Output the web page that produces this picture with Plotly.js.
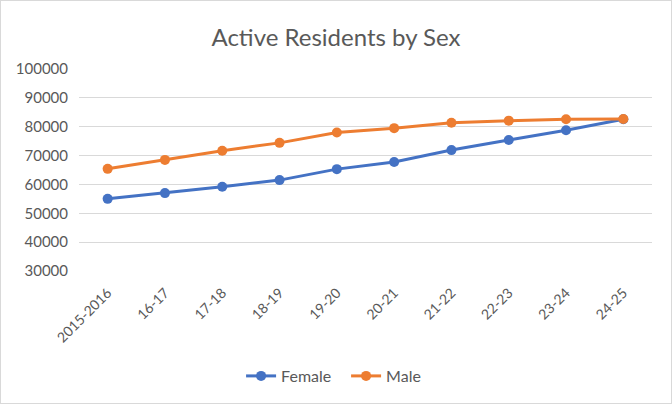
<!DOCTYPE html>
<html>
<head>
<meta charset="utf-8">
<script src="https://cdn.plot.ly/plotly-3.0.1.min.js"></script>
<style>
html,body{margin:0;padding:0;background:#fff;}
#wrap{position:relative;width:672px;height:404px;}
#chart{width:672px;height:404px;}
#frame{position:absolute;left:0;top:0;width:670px;height:402px;border:1px solid #d9d9d9;pointer-events:none;}
</style>
</head>
<body>
<div id="wrap"><div id="chart"></div><div id="frame"></div></div>
<script>
var categories = ["2015-2016","16-17","17-18","18-19","19-20","20-21","21-22","22-23","23-24","24-25"];
var female = [55000, 57000, 59200, 61500, 65300, 67800, 71900, 75400, 78800, 82600];
var male = [65400, 68500, 71700, 74400, 78000, 79500, 81400, 82100, 82600, 82700];
var yTicks = [30000,40000,50000,60000,70000,80000,90000,100000];

var font = "Lato, 'Open Sans', sans-serif";
var traces = [
  {x: categories, y: female, name: "Female", type: "scatter", mode: "lines+markers",
   line: {color: "#4472C4", width: 3}, marker: {color: "#4472C4", size: 10}},
  {x: categories, y: male, name: "Male", type: "scatter", mode: "lines+markers",
   line: {color: "#ED7D31", width: 3}, marker: {color: "#ED7D31", size: 10}}
];
var layout = {
  width: 672, height: 404,
  margin: {l: 79, r: 20, t: 69, b: 133, autoexpand: false},
  paper_bgcolor: "#fff", plot_bgcolor: "#fff",
  font: {family: font, color: "#595959", size: 14},
  title: {text: "Active Residents by Sex", x: 0.5, xanchor: "center",
          yref: "container", y: 1 - 38/404, yanchor: "middle",
          font: {family: font, size: 24, color: "#595959"}},
  xaxis: {type: "category", tickangle: -45, showgrid: false, showline: false, zeroline: false,
          automargin: false, ticks: "", ticklabelstandoff: 10,
          tickfont: {size: 14, color: "#595959"}, range: [-0.5, 9.5]},
  yaxis: {range: [30000, 100000], tickvals: yTicks, ticktext: yTicks.map(String),
          automargin: false, showgrid: true, gridcolor: "#d9d9d9", gridwidth: 1,
          zeroline: false, showline: false, ticks: "", ticklabelstandoff: 10,
          tickfont: {size: 15, color: "#595959"}},
  showlegend: true,
  legend: {orientation: "h", xref: "container", x: 0.515, xanchor: "center",
           yref: "container", y: 1 - 376/404, yanchor: "middle",
           entrywidth: 60, entrywidthmode: "pixels",
           font: {size: 16, color: "#595959"}}
};
Plotly.newPlot("chart", traces, layout, {displayModeBar: false, staticPlot: true});
</script>
</body>
</html>
